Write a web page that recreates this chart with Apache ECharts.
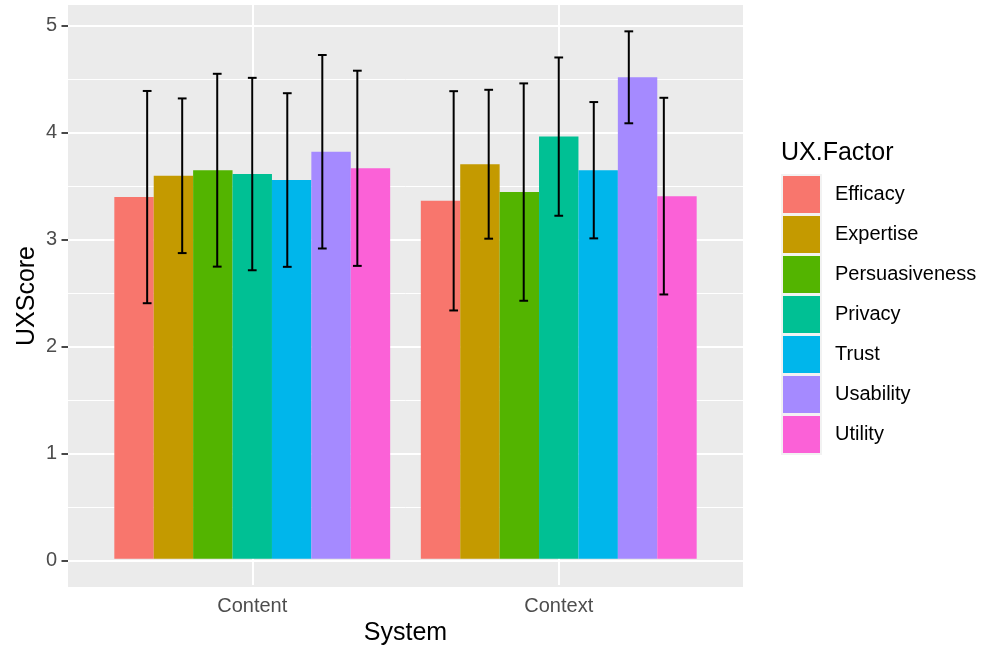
<!DOCTYPE html>
<html>
<head>
<meta charset="utf-8">
<title>UXScore by System and UX.Factor</title>
<script src="https://cdn.jsdelivr.net/npm/echarts@6/dist/echarts.min.js"></script>
<style>
  html, body { margin: 0; padding: 0; background: #ffffff; }
  #chart { width: 984px; height: 651px; }
</style>
</head>
<body>
<div id="chart"></div>
<script>
// Systems on the x axis and UX factors used as the fill grouping
const systems = ['Content', 'Context'];
const factors = ['Efficacy', 'Expertise', 'Persuasiveness', 'Privacy', 'Trust', 'Usability', 'Utility'];
const factorColors = ['#F8766D', '#C49A00', '#53B400', '#00C094', '#00B6EB', '#A58AFF', '#FB61D7'];

// Mean UXScore per factor, one array per system (factor order as above)
const contentMean = [3.39, 3.59, 3.642, 3.606, 3.55, 3.815, 3.66];
const contextMean = [3.355, 3.698, 3.437, 3.957, 3.642, 4.513, 3.399];

// Half-length of each error bar (mean +/- this value)
const contentErr = [0.995, 0.725, 0.904, 0.902, 0.814, 0.907, 0.915];
const contextErr = [1.028, 0.698, 1.019, 0.742, 0.639, 0.431, 0.922];

// Y axis ticks and gridlines
const yTicks = [0, 1, 2, 3, 4, 5];
const yMinorTicks = [0.5, 1.5, 2.5, 3.5, 4.5];
const yMin = -0.247;
const yMax = 5.191;

const FONT = '"Liberation Sans", Arial, Helvetica, sans-serif';
const BAR_WIDTH = 0.9;   // fraction of a category taken by the bar group
const DODGE = 0.8;       // dodge width used for the error bars
const CAP = 0.25;        // error bar cap width relative to the dodge step

const meansBySystem = [contentMean, contextMean];
const errBySystem = [contentErr, contextErr];

// Error bar records: [systemIndex, lower, upper, factorIndex]
const errorData = [];
systems.forEach(function (s, si) {
  factors.forEach(function (f, fi) {
    const m = meansBySystem[si][fi];
    const e = errBySystem[si][fi];
    errorData.push([si, m - e, m + e, fi]);
  });
});

const barSeries = factors.map(function (name, fi) {
  return {
    name: name,
    type: 'bar',
    xAxisIndex: 1,
    yAxisIndex: 1,
    barGap: '0%',
    barCategoryGap: ((1 - BAR_WIDTH) * 100) + '%',
    // same-colour outline so neighbouring bars meet without a seam
    itemStyle: { color: factorColors[fi], borderWidth: 1.5, borderColor: factorColors[fi] },
    emphasis: { disabled: true },
    z: 3,
    data: systems.map(function (s, si) { return meansBySystem[si][fi]; })
  };
});

const chart = echarts.init(document.getElementById('chart'), null, { renderer: 'canvas' });

const option = {
  backgroundColor: '#ffffff',
  animation: false,
  textStyle: { fontFamily: FONT },
  title: {
    text: 'UX.Factor',
    left: 776,
    top: 136,
    textStyle: { fontFamily: FONT, fontSize: 25, fontWeight: 'normal', color: '#000000' }
  },
  // light key background behind the legend swatches
  graphic: [
    { type: 'rect', left: 781, top: 174, shape: { width: 41, height: 281 }, style: { fill: '#f2f2f2' }, z: -1, silent: true }
  ],
  legend: {
    data: factors,
    orient: 'vertical',
    left: 783,
    top: 176,
    padding: 0,
    icon: 'rect',
    itemWidth: 37,
    itemHeight: 37,
    itemGap: 3,
    selectedMode: false,
    itemStyle: { borderWidth: 0 },
    textStyle: { fontFamily: FONT, fontSize: 20, color: '#000000', padding: [2, 0, 0, 10] }
  },
  grid: [
    // panel (background + horizontal gridlines + y axis)
    { left: 68, right: 241, top: 5, bottom: 64, show: true, backgroundColor: '#ebebeb', borderWidth: 0 },
    // bar area: one category unit per system, panel extends 0.6 units either side
    { left: 99, right: 272, top: 5, bottom: 64, containLabel: false }
  ],
  xAxis: [
    { gridIndex: 0, type: 'value', min: 0, max: 1, show: false },
    {
      gridIndex: 1,
      type: 'category',
      data: systems,
      boundaryGap: true,
      name: 'System',
      nameLocation: 'middle',
      nameGap: 36,
      nameMoveOverlap: false,
      nameTextStyle: { fontFamily: FONT, fontSize: 25, color: '#000000' },
      axisLine: { show: false },
      axisTick: { show: true, alignWithLabel: true, length: 7, lineStyle: { color: '#333333', width: 1.8 } },
      axisLabel: { fontFamily: FONT, fontSize: 20, color: '#4d4d4d', margin: 11 },
      splitLine: { show: false }
    }
  ],
  yAxis: [
    {
      gridIndex: 0,
      type: 'value',
      min: yMin,
      max: yMax,
      name: 'UXScore',
      nameLocation: 'middle',
      nameGap: 28,
      nameMoveOverlap: false,
      nameTextStyle: { fontFamily: FONT, fontSize: 25, color: '#000000' },
      axisLine: { show: false },
      axisTick: { show: true, customValues: yTicks, length: 6.5, lineStyle: { color: '#333333', width: 1.8 } },
      axisLabel: {
        customValues: yTicks,
        fontFamily: FONT, fontSize: 20, color: '#4d4d4d', margin: 11,
        padding: [2, 0, 0, 0]
      },
      splitLine: { show: false }
    },
    { gridIndex: 1, type: 'value', min: yMin, max: yMax, show: false }
  ],
  series: [
    // horizontal gridlines across the panel
    {
      type: 'line',
      xAxisIndex: 0,
      yAxisIndex: 0,
      data: [],
      silent: true,
      z: 1,
      markLine: {
        z: 1,
        silent: true,
        symbol: ['none', 'none'],
        label: { show: false },
        animation: false,
        data: yMinorTicks.map(function (v) {
          return { yAxis: v, lineStyle: { color: '#ffffff', width: 1, type: 'solid' } };
        }).concat(yTicks.map(function (v) {
          return { yAxis: v, lineStyle: { color: '#ffffff', width: 2, type: 'solid' } };
        }))
      }
    },
    // vertical gridlines at each system
    {
      type: 'line',
      xAxisIndex: 1,
      yAxisIndex: 1,
      data: [],
      silent: true,
      z: 1,
      markLine: {
        z: 1,
        silent: true,
        symbol: ['none', 'none'],
        label: { show: false },
        animation: false,
        lineStyle: { color: '#ffffff', width: 2, type: 'solid' },
        data: systems.map(function (s) { return { xAxis: s }; })
      }
    }
  ].concat(barSeries).concat([
    {
      type: 'custom',
      name: 'errorbars',
      xAxisIndex: 1,
      yAxisIndex: 1,
      z: 5,
      silent: true,
      data: errorData,
      renderItem: function (params, api) {
        const cat = api.value(0);
        const lo = api.value(1);
        const hi = api.value(2);
        const fi = api.value(3);
        const band = api.size([1, 0])[0];
        const step = band * DODGE / factors.length;
        const pLo = api.coord([cat, lo]);
        const pHi = api.coord([cat, hi]);
        const x = pLo[0] + (fi - (factors.length - 1) / 2) * step;
        const half = step * CAP / 2;
        const st = { stroke: '#000000', lineWidth: 2 };
        return {
          type: 'group',
          children: [
            { type: 'line', shape: { x1: x, y1: pHi[1], x2: x, y2: pLo[1] }, style: st },
            { type: 'line', shape: { x1: x - half, y1: pHi[1], x2: x + half, y2: pHi[1] }, style: st },
            { type: 'line', shape: { x1: x - half, y1: pLo[1], x2: x + half, y2: pLo[1] }, style: st }
          ]
        };
      }
    }
  ])
};

chart.setOption(option);
</script>
</body>
</html>
